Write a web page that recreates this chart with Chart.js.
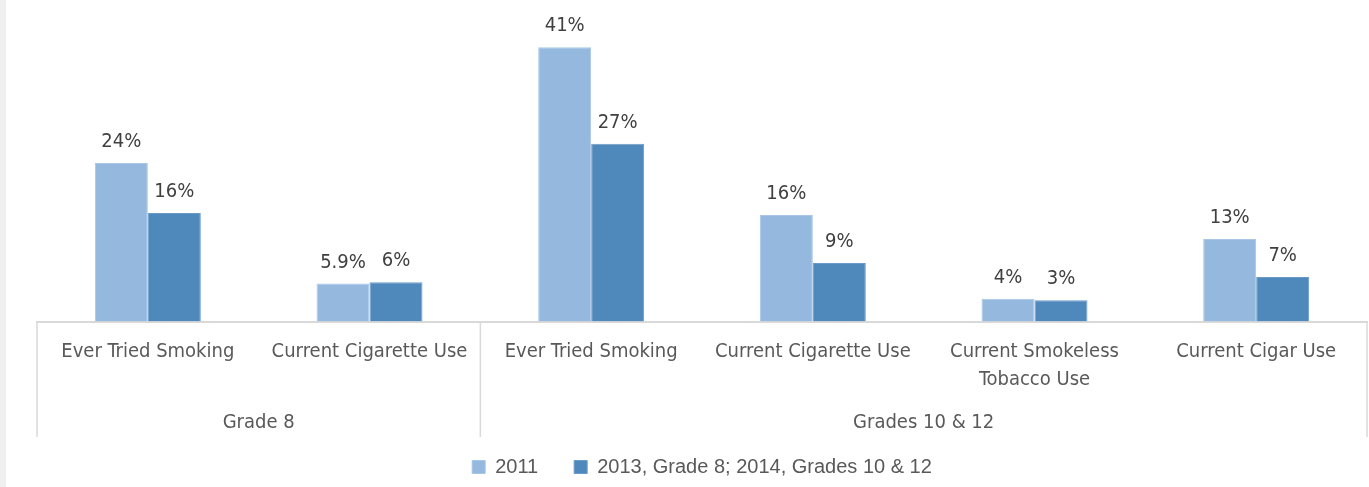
<!DOCTYPE html>
<html>
<head>
<meta charset="utf-8">
<script src="https://cdn.jsdelivr.net/npm/chart.js@4.4.1/dist/chart.umd.min.js"></script>
<style>
  html, body { margin: 0; padding: 0; background: #fff; }
  #wrap { width: 1363px; height: 487px; border-left: 6px solid #f0f0f0; }
</style>
</head>
<body>
<div id="wrap"><canvas id="chart_area" width="1363" height="487"></canvas></div>
<script>
// categories and groups
const categories = [
  'Ever Tried Smoking',
  'Current Cigarette Use',
  'Ever Tried Smoking',
  'Current Cigarette Use',
  ['Current Smokeless', 'Tobacco Use'],
  'Current Cigar Use'
];
const groupNames = ['Grade 8', 'Grades 10 & 12'];
const groupSizes = [2, 4];

// series (bar heights) and the printed labels
const values2011 = [23.8, 5.7, 41.2, 16.0, 3.4, 12.4];
const valuesLater = [16.3, 5.9, 26.7, 8.8, 3.2, 6.7];
const labels2011 = ['24%', '5.9%', '41%', '16%', '4%', '13%'];
const labelsLater = ['16%', '6%', '27%', '9%', '3%', '7%'];
const seriesNames = ['2011', '2013, Grade 8; 2014, Grades 10 & 12'];

const NARROW = "'DejaVu Sans Condensed', 'Liberation Sans Narrow', sans-serif";
const REGULAR = "'Liberation Sans', Arial, sans-serif";

const barLabels = {
  id: 'barLabels',
  afterDatasetsDraw(chart) {
    const ctx = chart.ctx;
    const texts = [labels2011, labelsLater];
    ctx.save();
    ctx.font = '20px ' + NARROW;
    ctx.fillStyle = '#404040';
    ctx.textAlign = 'center';
    ctx.textBaseline = 'alphabetic';
    chart.data.datasets.forEach(function (ds, d) {
      chart.getDatasetMeta(d).data.forEach(function (bar, i) {
        ctx.fillText(texts[d][i], bar.x, bar.y - 16);
      });
    });
    ctx.restore();
  }
};

const groupAxis = {
  id: 'groupAxis',
  afterDraw(chart) {
    const ctx = chart.ctx;
    const xs = chart.scales.x;
    const area = chart.chartArea;
    const step = (area.right - area.left) / categories.length;
    const lineBottom = area.bottom + 115.5;
    const textY = area.bottom + 101.5;
    ctx.save();
    ctx.strokeStyle = '#d9d9d9';
    ctx.lineWidth = 1.5;
    ctx.font = '20px ' + NARROW;
    ctx.fillStyle = '#595959';
    ctx.textAlign = 'center';
    ctx.textBaseline = 'middle';
    let start = 0;
    const edges = [xs.getPixelForValue(0) - step / 2];
    groupSizes.forEach(function (n, g) {
      const left = xs.getPixelForValue(start) - step / 2;
      const right = xs.getPixelForValue(start + n - 1) + step / 2;
      edges.push(right);
      ctx.fillText(groupNames[g], (left + right) / 2, textY);
      start += n;
    });
    edges.forEach(function (ex) {
      ctx.beginPath();
      ctx.moveTo(ex, area.bottom);
      ctx.lineTo(ex, lineBottom);
      ctx.stroke();
    });
    ctx.restore();
  }
};

const ctx = document.getElementById('chart_area').getContext('2d');
const chart = new Chart(ctx, {
  type: 'bar',
  data: {
    labels: categories,
    datasets: [{
      label: seriesNames[0],
      data: values2011,
      backgroundColor: '#95b8de',
      borderColor: '#a9c6e6',
      borderWidth: 1
    }, {
      label: seriesNames[1],
      data: valuesLater,
      backgroundColor: '#4f89bc',
      borderColor: '#6a9bc8',
      borderWidth: 1
    }]
  },
  options: {
    responsive: false,
    animation: false,
    devicePixelRatio: 1,
    categoryPercentage: 0.478,
    barPercentage: 1,
    layout: { padding: { top: 22, left: 31, right: 2, bottom: 0 } },
    plugins: {
      tooltip: { enabled: false },
      legend: {
        position: 'bottom',
        labels: {
          boxWidth: 13,
          boxHeight: 13,
          padding: 36,
          color: '#595959',
          font: { size: 20, family: REGULAR }
        }
      }
    },
    scales: {
      y: { display: false, min: 0, max: 45 },
      x: {
        grid: { display: false, drawTicks: false },
        border: { display: true, color: '#d9d9d9', width: 2 },
        ticks: {
          color: '#595959',
          padding: 16,
          maxRotation: 0,
          autoSkip: false,
          font: { size: 20, family: NARROW, lineHeight: 1.4 }
        },
        afterFit: function (scale) { scale.height = 99.5; }
      }
    }
  },
  plugins: [barLabels, groupAxis]
});
</script>
</body>
</html>
